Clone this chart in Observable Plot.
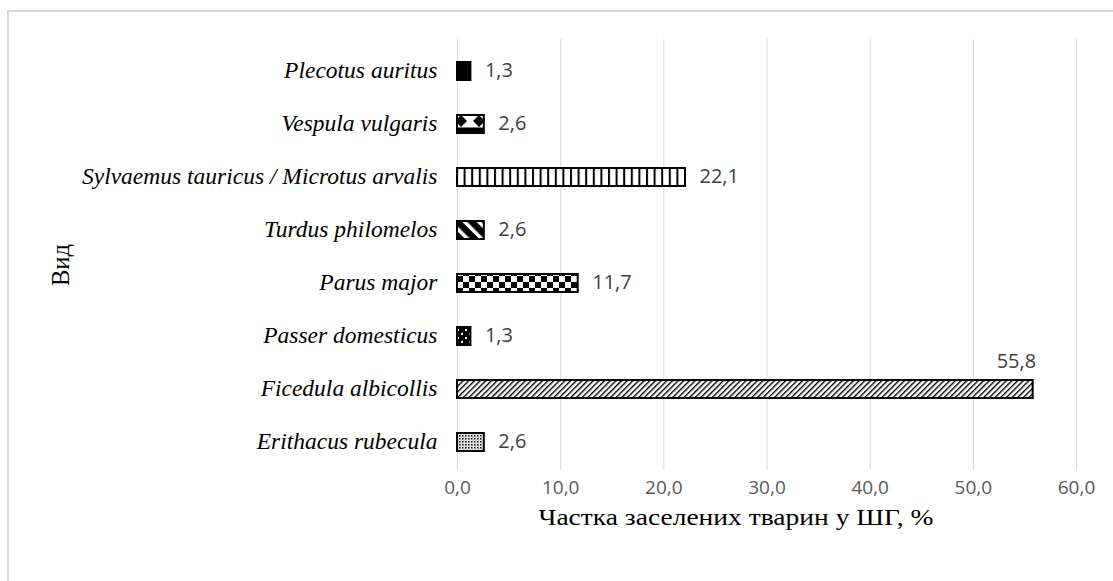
<!DOCTYPE html>
<html>
<head>
<meta charset="utf-8">
<script src="https://cdn.jsdelivr.net/npm/d3@7"></script>
<script src="https://cdn.jsdelivr.net/npm/@observablehq/plot@0.6"></script>
<style>
  html, body { margin: 0; padding: 0; background: #fff; width: 1113px; height: 581px; overflow: hidden; }
  #frame { position: absolute; left: 7px; top: 10px; width: 1200px; height: 700px; border-left: 2px solid #d9d9d9; border-top: 2px solid #d9d9d9; pointer-events: none; }
  #chart { position: absolute; left: 0; top: 0; }
  #defs { position: absolute; width: 0; height: 0; }
</style>
</head>
<body>
<svg id="defs" width="0" height="0">
  <defs>
    <pattern id="p-solid" width="8" height="8" patternUnits="userSpaceOnUse">
      <rect width="8" height="8" fill="#000"/>
    </pattern>
    <pattern id="p-diamond" width="18" height="18" patternUnits="userSpaceOnUse" x="458" y="112">
      <rect width="18" height="18" fill="#fff"/>
      <path d="M3,3 L9,9 L3,15 L-3,9 Z M21,3 L27,9 L21,15 L15,9 Z" fill="#000"/>
      <rect x="0" y="0" width="18" height="2.5" fill="#000"/>
      <rect x="0" y="15.5" width="18" height="2.5" fill="#000"/>
    </pattern>
    <pattern id="p-vert" width="7.6" height="8" patternUnits="userSpaceOnUse">
      <rect width="7.6" height="8" fill="#fff"/>
      <rect x="0" width="2" height="8" fill="#000"/>
    </pattern>
    <pattern id="p-wdiag" width="10" height="10" patternUnits="userSpaceOnUse" patternTransform="rotate(-45)">
      <rect width="10" height="10" fill="#000"/>
      <rect x="0" width="3.5" height="10" fill="#fff"/>
    </pattern>
    <pattern id="p-check" width="12" height="12" patternUnits="userSpaceOnUse" x="457" y="0">
      <rect width="12" height="12" fill="#fff"/>
      <rect x="0" y="0" width="6" height="6" fill="#000"/>
      <rect x="6" y="6" width="6" height="6" fill="#000"/>
    </pattern>
    <pattern id="p-dots" width="8" height="8" patternUnits="userSpaceOnUse">
      <rect width="8" height="8" fill="#000"/>
      <rect x="1" y="1" width="2" height="2" fill="#fff"/>
      <rect x="5" y="5" width="2" height="2" fill="#fff"/>
    </pattern>
    <pattern id="p-ldiag" width="4" height="4" patternUnits="userSpaceOnUse" patternTransform="rotate(45)">
      <rect width="4" height="4" fill="#fff"/>
      <rect x="0" width="1.4" height="4" fill="#000"/>
    </pattern>
    <pattern id="p-fine" width="3" height="3" patternUnits="userSpaceOnUse">
      <rect width="3" height="3" fill="#fff"/>
      <rect x="0" y="0" width="1.5" height="1.5" fill="#000"/>
      <rect x="1.5" y="1.5" width="1" height="1" fill="#555"/>
    </pattern>
  </defs>
</svg>
<div id="frame"></div>
<div id="chart"></div>
<script>
const species = [
  "Plecotus auritus",
  "Vespula vulgaris",
  "Sylvaemus tauricus / Microtus arvalis",
  "Turdus philomelos",
  "Parus major",
  "Passer domesticus",
  "Ficedula albicollis",
  "Erithacus rubecula"
];
const shares = [1.3, 2.6, 22.1, 2.6, 11.7, 1.3, 55.8, 2.6];
const patterns = ["p-solid", "p-diamond", "p-vert", "p-wdiag", "p-check", "p-dots", "p-ldiag", "p-fine"];
const xTicks = [0, 10, 20, 30, 40, 50, 60];
const xLabel = "Частка заселених тварин у ШГ, %";
const yLabel = "Вид";

const data = species.map((s, i) => ({species: s, value: shares[i], fill: `url(#${patterns[i]})`}));
const fmt = v => v.toFixed(1).replace(".", ",");
const inside = data.filter(d => d.value < 50);
const above = data.filter(d => d.value >= 50);
const sans = "'Open Sans', 'Noto Sans', sans-serif";
const serif = "'Liberation Serif', 'DejaVu Serif', serif";

const chart = Plot.plot({
  width: 1113,
  height: 581,
  marginLeft: 457,
  marginRight: 37,
  marginTop: 39,
  marginBottom: 111,
  style: {background: "transparent", overflow: "visible"},
  x: {domain: [0, 60], ticks: xTicks, tickFormat: fmt, label: null},
  y: {domain: species, padding: 0, label: null},
  color: {type: "identity"},
  marks: [
    Plot.gridX(xTicks, {stroke: "#d9d9d9", strokeOpacity: 1, strokeWidth: 1}),
    Plot.axisX(xTicks, {tickSize: 0, tickPadding: 10, tickFormat: fmt, fontSize: 19, fill: "#595959", fontFamily: sans, label: null}),
    Plot.axisY({tickSize: 0, tickPadding: 20, fontSize: 23.5, fontStyle: "italic", fill: "#000", fontFamily: serif, label: null}),
    Plot.barX(data, {x: "value", y: "species", fill: "fill", stroke: "#000", strokeWidth: 2, insetTop: 19, insetBottom: 16}),
    Plot.text(inside, {x: "value", y: "species", text: d => fmt(d.value), textAnchor: "start", dx: 14, dy: 1, fontSize: 20, fill: "#404040", fontFamily: sans}),
    Plot.text(above, {x: "value", y: "species", text: d => fmt(d.value), textAnchor: "end", dx: 3, dy: -26, fontSize: 20, fill: "#404040", fontFamily: sans}),
    Plot.text([xLabel], {frameAnchor: "bottom", dx: -31, dy: 54, text: d => d, fontSize: 23.5, fill: "#000", fontFamily: serif}),
    Plot.text([yLabel], {frameAnchor: "left", textAnchor: "middle", dx: -397, dy: 10, rotate: -90, text: d => d, fontSize: 25, fill: "#000", fontFamily: serif})
  ]
});
document.getElementById("chart").appendChild(chart);
// stretch the axis titles horizontally to the reference's width
d3.select(chart).selectAll("text").each(function () {
  if (this.textContent === xLabel) {
    this.setAttribute("textLength", 395);
    this.setAttribute("lengthAdjust", "spacingAndGlyphs");
  } else if (this.textContent === yLabel) {
    this.setAttribute("textLength", 42);
    this.setAttribute("lengthAdjust", "spacingAndGlyphs");
  }
});
</script>
</body>
</html>
